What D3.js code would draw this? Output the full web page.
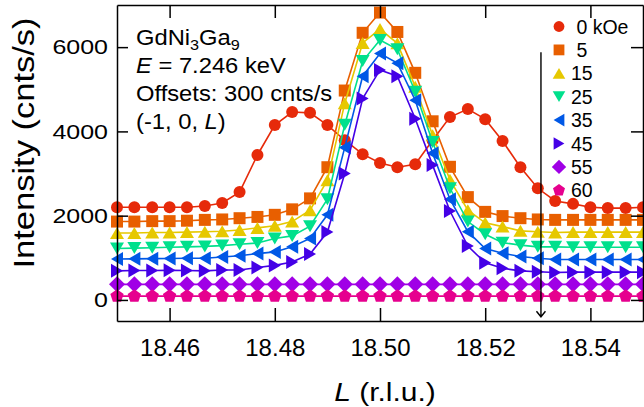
<!DOCTYPE html>
<html>
<head>
<meta charset="utf-8">
<script src="https://cdn.jsdelivr.net/npm/d3@7"></script>
<style>
  body { margin: 0; background: #fff; }
  svg { display: block; font-family: "Liberation Sans", Arial, sans-serif; }
</style>
</head>
<body>
<svg id="chart" width="644" height="407"></svg>
<script>
// scan points (r.l.u.)
const L_rlu = [18.4500, 18.4533, 18.4567, 18.4600, 18.4633, 18.4667, 18.4700, 18.4733, 18.4767, 18.4800,
  18.4833, 18.4867, 18.4900, 18.4933, 18.4967, 18.5000, 18.5033, 18.5067, 18.5100, 18.5133,
  18.5167, 18.5200, 18.5233, 18.5267, 18.5300, 18.5333, 18.5367, 18.5400, 18.5433, 18.5467, 18.5500];

// intensities with 300 cnts/s offsets already added
const i00 = [2200,2200,2200,2200,2200,2230,2300,2560,3440,4150,4460,4440,4150,3790,3460,3250,3150,3220,3790,4340,4530,4290,3770,3150,2650,2350,2280,2200,2180,2180,2200];
const i05 = [1860,1860,1870,1870,1880,1900,1910,1940,1970,2020,2150,2410,3150,4970,6340,6820,6360,5390,4240,3160,2440,2090,1990,1940,1910,1900,1900,1900,1900,1900,1900];
const i15 = [1590,1590,1600,1600,1610,1620,1630,1660,1710,1760,1860,2130,2840,4670,6100,6430,6090,5060,3910,2850,2130,1830,1740,1640,1620,1600,1610,1610,1610,1610,1610];
const i25 = [1220,1230,1240,1250,1260,1270,1290,1320,1350,1460,1520,1750,2390,4160,5670,6170,5950,4940,3750,2650,1860,1560,1360,1300,1260,1260,1250,1250,1250,1250,1250];
const i35 = [970,975,980,985,990,990,1020,1050,1100,1140,1260,1460,2020,3620,5310,5850,5620,4740,3480,2390,1620,1220,1110,1030,990,960,960,960,960,960,960];
const i45 = [690,700,700,705,700,690,710,710,770,820,900,1090,1610,3000,4780,5460,5310,4300,3200,2110,1280,880,750,690,670,650,660,660,660,660,660];
const i55 = [370,370,370,370,370,370,370,370,370,370,370,370,370,370,370,370,370,370,370,370,370,370,370,370,370,370,370,370,370,370,370];
const i60 = [90,90,90,90,90,90,90,90,90,90,90,90,90,90,90,90,90,90,90,90,90,90,90,90,90,90,90,90,90,90,90];

const fieldLabels = [" 0 kOe", " 5", "15", "25", "35", "45", "55", "60"];
const xTicks = [18.46, 18.48, 18.50, 18.52, 18.54];
const yTicks = [0, 2000, 4000, 6000];
const arrowL = 18.5306, arrowFrom = 5880, arrowTo = -400;

const colors = ["#e62a0a", "#e85f00", "#e6c800", "#00e08c", "#0058e6", "#4400e6", "#a000e6", "#e6008e"];
const shapes = ["circle", "square", "up", "down", "left", "right", "diamond", "pentagon"];
const series = [i00, i05, i15, i25, i35, i45, i55, i60].map((v, i) => ({
  label: fieldLabels[i], values: v, color: colors[i], shape: shapes[i]
}));

const svg = d3.select("#chart");
const x = d3.scaleLinear().domain([18.45, 18.55]).range([117, 643]);
const y = d3.scaleLinear().domain([-500, 7000]).range([321, 5]);

function marker(name) {
  const a = 7, h = 12;
  let p;
  if (name === "circle") return d3.symbol().type(d3.symbolCircle).size(Math.PI * 36)();
  if (name === "square") p = [[-6, -6], [6, -6], [6, 6], [-6, 6]];
  if (name === "up") p = [[0, -h / 2], [a, h / 2], [-a, h / 2]];
  if (name === "down") p = [[0, h / 2], [a, -h / 2], [-a, -h / 2]];
  if (name === "left") p = [[-h / 2, 0], [h / 2, -a], [h / 2, a]];
  if (name === "right") p = [[h / 2, 0], [-h / 2, -a], [-h / 2, a]];
  if (name === "diamond") p = [[0, -8], [8, 0], [0, 8], [-8, 0]];
  if (name === "pentagon") p = d3.range(5).map(k => {
    const t = -Math.PI / 2 + k * 2 * Math.PI / 5;
    return [7 * Math.cos(t), 7 * Math.sin(t)];
  });
  return "M" + p.map(q => q.join(",")).join("L") + "Z";
}

const line = d3.line().x((d, i) => x(L_rlu[i])).y(d => y(d));

// traces
series.forEach(s => {
  const g = svg.append("g");
  g.append("path")
    .attr("d", line(s.values))
    .attr("fill", "none")
    .attr("stroke", s.color)
    .attr("stroke-width", 1.6);
  g.selectAll("path.pt")
    .data(s.values)
    .enter()
    .append("path")
    .attr("class", "pt")
    .attr("d", marker(s.shape))
    .attr("transform", (d, i) => `translate(${x(L_rlu[i])},${y(d)})`)
    .attr("fill", s.color);
});

// frame and axes
const axisStyle = g => {
  g.selectAll("path, line").attr("stroke", "#000").attr("stroke-width", 1.5);
  g.selectAll("text").attr("fill", "#000");
};

svg.append("g")
  .attr("transform", "translate(0,321)")
  .call(d3.axisBottom(x).tickValues(xTicks).tickSizeInner(-13).tickSizeOuter(0)
    .tickPadding(18).tickFormat(d3.format(".2f")))
  .call(axisStyle)
  .selectAll("text").attr("font-size", 24).attr("font-family", "Liberation Sans, Arial, sans-serif");

svg.append("g")
  .attr("transform", "translate(0,5)")
  .call(d3.axisTop(x).tickValues(xTicks).tickSizeInner(-13).tickSizeOuter(0).tickFormat(""))
  .call(axisStyle);

svg.append("g")
  .attr("transform", "translate(117,0)")
  .call(d3.axisLeft(y).tickValues(yTicks).tickSizeInner(-11).tickSizeOuter(0)
    .tickPadding(9).tickFormat(d3.format("d")))
  .call(axisStyle)
  .selectAll("text")
  .attr("font-size", 21)
  .attr("font-family", "Liberation Sans, Arial, sans-serif")
  .attr("transform", "scale(1.19,1)")
  .attr("x", -9 / 1.19);

svg.append("g")
  .attr("transform", "translate(643,0)")
  .call(d3.axisRight(y).tickValues(yTicks).tickSizeInner(-12).tickSizeOuter(0).tickFormat(""))
  .call(axisStyle);

// axis titles
svg.append("text")
  .attr("transform", "translate(34,143) rotate(-90) scale(1.19,1)")
  .attr("text-anchor", "middle")
  .attr("font-size", 29)
  .text("Intensity (cnts/s)");

const xt = svg.append("text")
  .attr("transform", "translate(385,401) scale(1.2,1)")
  .attr("text-anchor", "middle")
  .attr("font-size", 25);
xt.append("tspan").attr("font-style", "italic").text("L");
xt.append("tspan").text(" (r.l.u.)");

// field arrow
svg.append("path")
  .attr("d", `M${x(arrowL)},${y(arrowFrom)}V${y(arrowTo)}M${x(arrowL) - 4.5},${y(arrowTo) - 5.5}L${x(arrowL)},${y(arrowTo)}L${x(arrowL) + 4.5},${y(arrowTo) - 5.5}`)
  .attr("fill", "none")
  .attr("stroke", "#000")
  .attr("stroke-width", 1.4);

// annotation
const note = svg.append("g").attr("font-size", 22);
const t1 = note.append("text").attr("transform", "translate(136,45) scale(1.08,1)");
t1.append("tspan").text("GdNi");
t1.append("tspan").attr("font-size", 15).attr("dy", 5).text("3");
t1.append("tspan").attr("dy", -5).text("Ga");
t1.append("tspan").attr("font-size", 15).attr("dy", 5).text("9");
const t2 = note.append("text").attr("transform", "translate(136,73) scale(1.08,1)");
t2.append("tspan").attr("font-style", "italic").text("E");
t2.append("tspan").text(" = 7.246 keV");
note.append("text").attr("transform", "translate(136,101) scale(1.08,1)").text("Offsets: 300 cnts/s");
const t4 = note.append("text").attr("transform", "translate(136,129) scale(1.08,1)");
t4.append("tspan").text("(-1, 0, ");
t4.append("tspan").attr("font-style", "italic").text("L");
t4.append("tspan").text(")");

// legend
const leg = svg.append("g").selectAll("g")
  .data(series)
  .enter()
  .append("g")
  .attr("transform", (d, i) => `translate(559,${26.5 + i * 23.4})`);
leg.append("path")
  .attr("d", d => marker(d.shape))
  .attr("transform", "scale(0.9)")
  .attr("fill", d => d.color);
leg.append("text")
  .attr("x", 12)
  .attr("y", 7)
  .attr("font-size", 19.5)
  .attr("xml:space", "preserve")
  .style("white-space", "pre")
  .text(d => d.label);
</script>
</body>
</html>
